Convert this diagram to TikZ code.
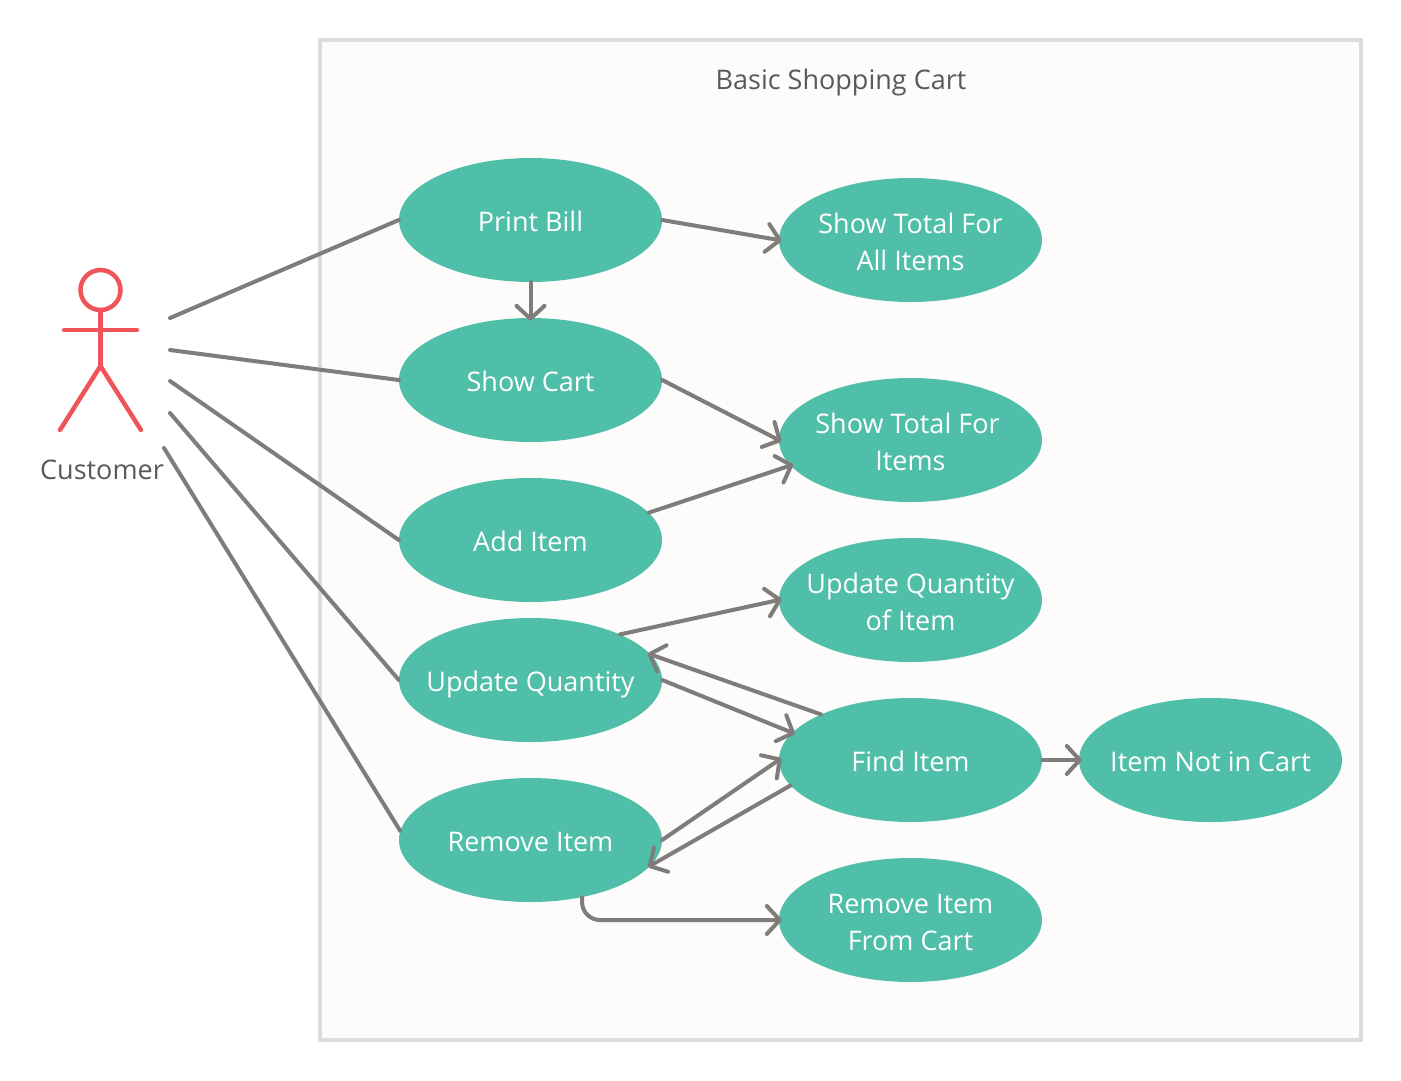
\documentclass[tikz,border=0pt]{standalone}
\usepackage{fontspec}
\setmainfont{Open Sans}
\usetikzlibrary{arrows.meta}
\usetikzlibrary{shapes.geometric}
\definecolor{ucgreen}{HTML}{50BFA9}
\definecolor{linegray}{HTML}{7F7D7B}
\definecolor{framegray}{HTML}{DCDCDC}
\definecolor{framefill}{HTML}{FDFCFB}
\definecolor{actorred}{HTML}{F05458}
\definecolor{textgray}{HTML}{595959}
\begin{document}
\begin{tikzpicture}[
  x=1pt,y=-1pt,
  usecase/.style={ellipse,fill=ucgreen,minimum width=263pt,minimum height=124pt,inner sep=0},
  uctext/.style={text=white,align=center,inner sep=0,font=\fontsize{27}{37}\selectfont,yshift=-2pt},
  ucline/.style={text=white,inner sep=0,font=\fontsize{27}{37}\selectfont,text height=23pt,text depth=0pt},
  plain/.style={text=textgray,inner sep=0,font=\fontsize{27}{30}\selectfont,text height=18pt,text depth=0pt},
  assoc/.style={draw=linegray,line width=4pt,line cap=round},
  arrow/.style={assoc,shorten >=-3pt,-{Straight Barb[length=13pt,width=28pt,round]}},
  stick/.style={draw=actorred,line width=4.5pt,line cap=round},
]
\useasboundingbox (0,0) rectangle (1401,1080);
\node[draw=framegray,fill=framefill,line width=4pt,minimum width=1041pt,minimum height=1000pt,inner sep=0] (frame) at (840.5,540) {};
\node[plain] (title) at (841,80) {Basic Shopping Cart};

% left column
\node[usecase,label={[ucline]center:Print Bill}] (bill) at (530.5,220) {};
\node[usecase,label={[ucline]center:Show Cart}] (cart) at (530.5,380) {};
\node[usecase,label={[ucline]center:Add Item}] (add) at (530.5,540) {};
\node[usecase,label={[ucline]center:Update Quantity}] (update) at (530.5,680) {};
\node[usecase,label={[ucline]center:Remove Item}] (remove) at (530.5,840) {};
% right column
\node[usecase,label={[uctext]center:Show Total For\\All Items}] (totalall) at (910.5,240) {};
\node[usecase,label={[uctext]center:Show Total For\kern6pt\\Items}] (totalitems) at (910.5,440) {};
\node[usecase,label={[uctext]center:Update Quantity\\of Item}] (updateitem) at (910.5,600) {};
\node[usecase,label={[ucline]center:Find Item}] (find) at (910.5,760) {};
\node[usecase,label={[ucline]center:Item Not in Cart}] (notincart) at (1210.5,760) {};
\node[usecase,label={[uctext]center:Remove Item\\From Cart}] (fromcart) at (910.5,920) {};

% actor
\node[circle,draw=actorred,line width=4.5pt,minimum size=40pt,inner sep=0] (head) at (100.5,290) {};
\coordinate (hip) at (100.5,366);
\coordinate (armL) at (64,330);
\coordinate (armR) at (137,330);
\coordinate (legL) at (60,430);
\coordinate (legR) at (141,430);
\draw[stick] (head.south) -- (hip);
\draw[stick] (armL) -- (armR);
\draw[stick] (legL) -- (hip) -- (legR);
\node[plain] (customer) at (102,470) {Customer};

\coordinate (a1) at (170,318);
\coordinate (a2) at (170,350);
\coordinate (a3) at (170,381);
\coordinate (a4) at (170,413);
\coordinate (a5) at (164,448);
\draw[assoc] (a1) -- (bill.west);
\draw[assoc] (a2) -- (cart.west);
\draw[assoc] (a3) -- (add.west);
\draw[assoc] (a4) -- (update.west);
\draw[assoc] (a5) -- (remove.176);

\draw[arrow] (bill.east) -- (totalall.west);
\draw[arrow] (bill.south) -- (cart.north);
\draw[arrow] (cart.east) -- (totalitems.west);
\draw[arrow] (add.13) -- (totalitems.192);
\draw[arrow] (update.27) -- (updateitem.west);
\draw[arrow] (find.153) -- (update.12.5);
\draw[arrow] (update.east) -- (find.167.5);
\draw[arrow] (remove.east) -- (find.west);
\draw[arrow] (find.192.5) -- (remove.-12.5);
\draw[arrow,rounded corners=18pt] (remove.-48) |- (fromcart.west);
\draw[arrow] (find.east) -- (notincart.west);
\end{tikzpicture}
\end{document}
